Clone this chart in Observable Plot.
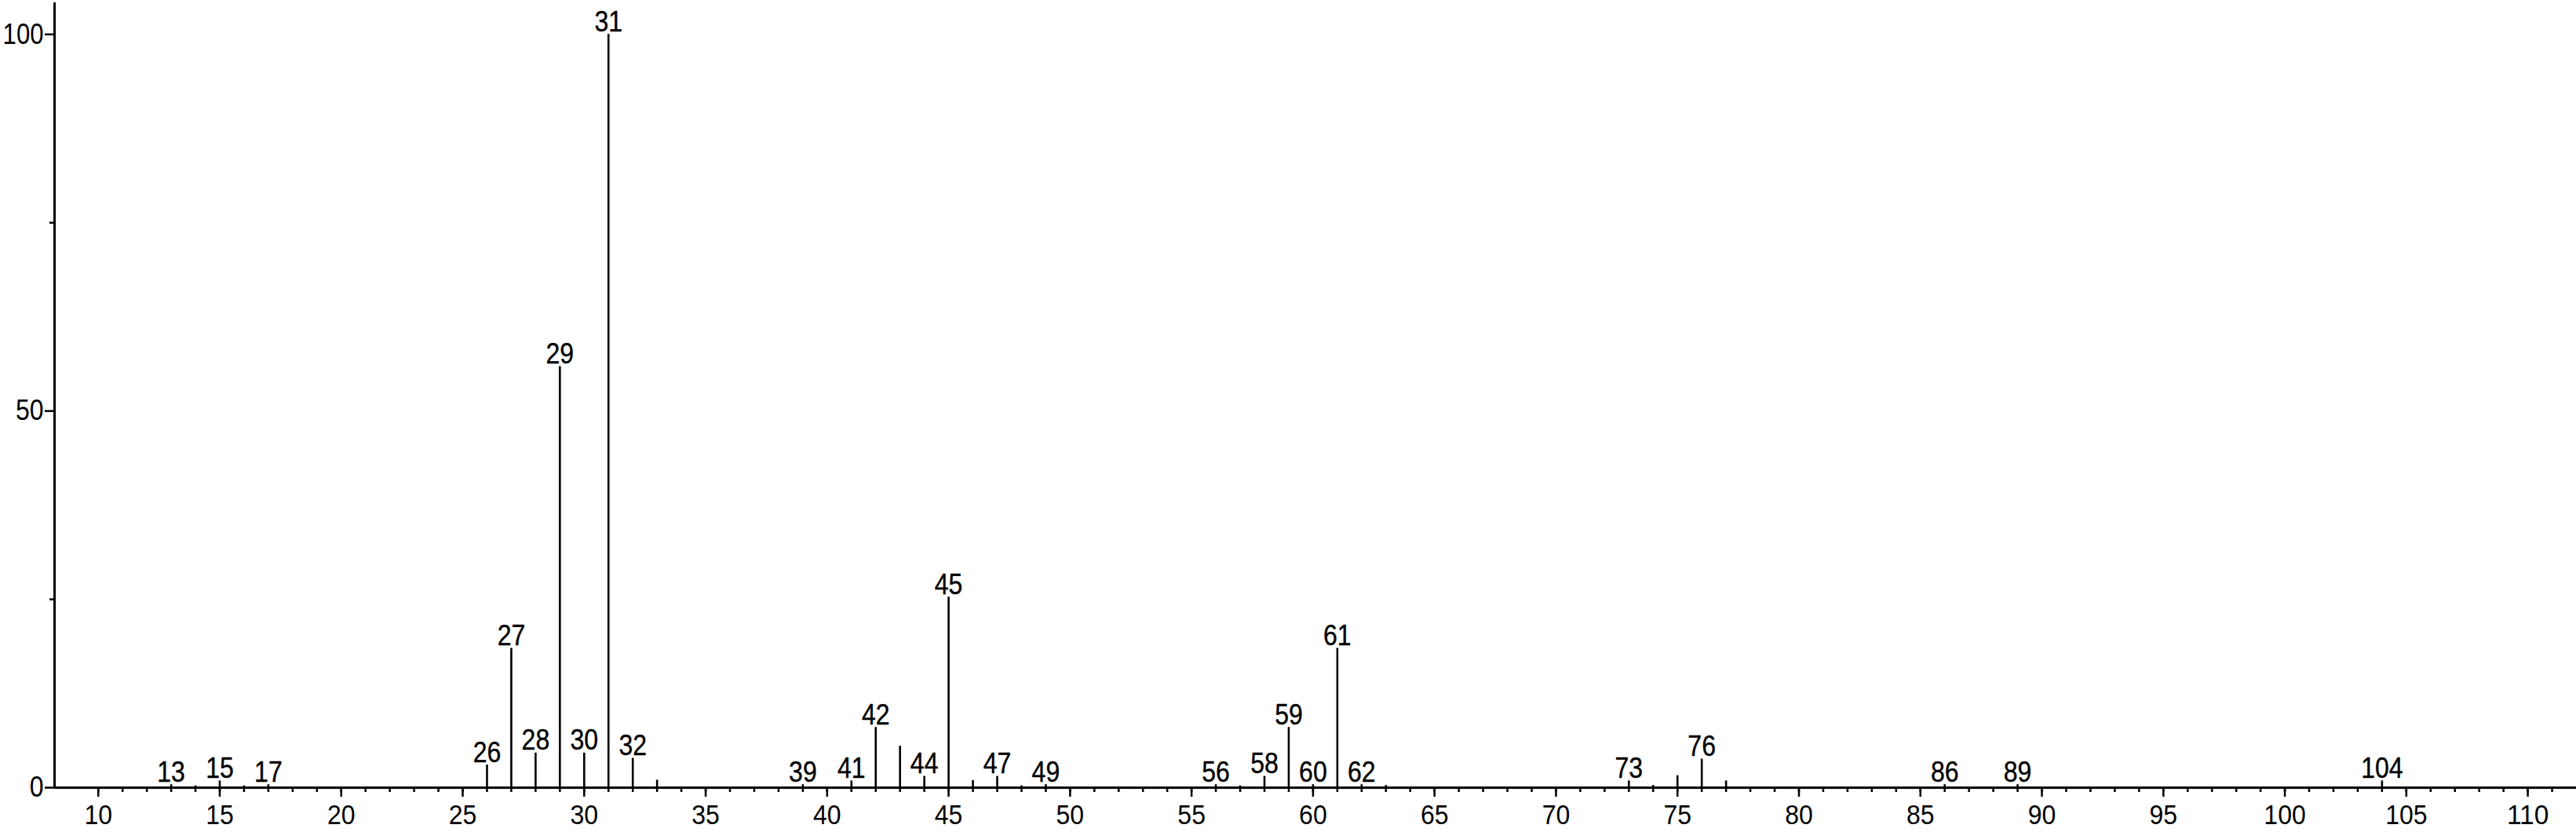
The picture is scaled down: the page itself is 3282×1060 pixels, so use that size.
<!DOCTYPE html>
<html>
<head>
<meta charset="utf-8">
<script src="https://cdn.jsdelivr.net/npm/d3@7"></script>
<script src="https://cdn.jsdelivr.net/npm/@observablehq/plot@0.6"></script>
<style>
  html, body { margin: 0; padding: 0; background: #fff; }
  #chart svg { display: block; }
</style>
</head>
<body>
<div id="chart"></div>
<script>
// m/z values of the peaks
const mz = [13, 14, 15, 16, 17, 26, 27, 28, 29, 30, 31, 32, 33, 39, 41, 42, 43, 44, 45, 46, 47, 48, 49,
            56, 57, 58, 59, 60, 61, 62, 63, 73, 74, 75, 76, 77, 86, 89, 104];
// relative intensities (%)
const intensity = [0.4, 0.25, 0.9, 0.25, 0.4, 3.0, 18.5, 4.6, 55.9, 4.6, 100, 3.9, 1.0, 0.4, 0.9, 8.0, 5.5, 1.5, 25.3, 0.95, 1.5, 0.25, 0.4,
                   0.4, 0.25, 1.5, 8.0, 0.4, 18.5, 0.4, 0.3, 0.9, 0.3, 1.6, 3.8, 0.9, 0.4, 0.4, 0.9];
// peaks carrying a label
const labeled = [13, 15, 17, 26, 27, 28, 29, 30, 31, 32, 39, 41, 42, 44, 45, 47, 49, 56, 58, 59, 60, 61, 62, 73, 76, 86, 89, 104];
// axis ticks
const xMajorTicks = [10, 15, 20, 25, 30, 35, 40, 45, 50, 55, 60, 65, 70, 75, 80, 85, 90, 95, 100, 105, 110];
const xMinorTicks = d3.range(10, 112, 1);
const yMajorTicks = [0, 50, 100];
const yMinorTicks = [25, 75];

const peaks = mz.map((m, i) => ({mz: m, intensity: intensity[i]}));
const labeledPeaks = peaks.filter(d => labeled.includes(d.mz));

const chart = Plot.plot({
  width: 3282,
  height: 1060,
  marginLeft: 69,
  marginRight: 0,
  marginTop: 3,
  marginBottom: 57,
  x: {domain: [8.2, 112]},
  y: {domain: [0, 104.2]},
  style: {fontFamily: "'Liberation Sans', Arial, Helvetica, sans-serif", fontSize: "37px", color: "black", background: "white"},
  marks: [
    Plot.ruleX(peaks, {x: "mz", y1: 0, y2: "intensity", stroke: "black", strokeWidth: 2.6}),
    Plot.text(labeledPeaks, {x: "mz", y: "intensity", text: d => String(d.mz), dy: -4, lineAnchor: "bottom", fontSize: 37, fill: "black", stroke: "black", strokeWidth: 0.4}),
    Plot.axisX({ticks: xMinorTicks, tickSize: 6, tickFormat: () => "", label: null, strokeWidth: 2.5}),
    Plot.axisX({ticks: xMajorTicks, tickSize: 12, tickPadding: 10, tickFormat: d => String(d), label: null, strokeWidth: 2.5, fontSize: 35}),
    Plot.axisY({ticks: yMinorTicks, tickSize: 6, tickFormat: () => "", label: null, strokeWidth: 2.5}),
    Plot.axisY({ticks: yMajorTicks, tickSize: 12, tickPadding: 2, tickFormat: d => String(d), label: null, strokeWidth: 2.5, fontSize: 37}),
    Plot.ruleY([0], {stroke: "black", strokeWidth: 3}),
    Plot.ruleX([8.2], {stroke: "black", strokeWidth: 3})
  ]
});
// the reference uses a condensed sans: squeeze the glyphs to ~17-18px per digit
d3.select(chart).selectAll("text").each(function() {
  const t = this.textContent;
  if (t && t.length) {
    const w = t === "100" && this.closest("g[aria-label='y-axis tick label']") ? 17.3 : 17.8;
    this.setAttribute("textLength", t.length * w);
    this.setAttribute("lengthAdjust", "spacingAndGlyphs");
  }
});
document.getElementById("chart").appendChild(chart);
</script>
</body>
</html>
